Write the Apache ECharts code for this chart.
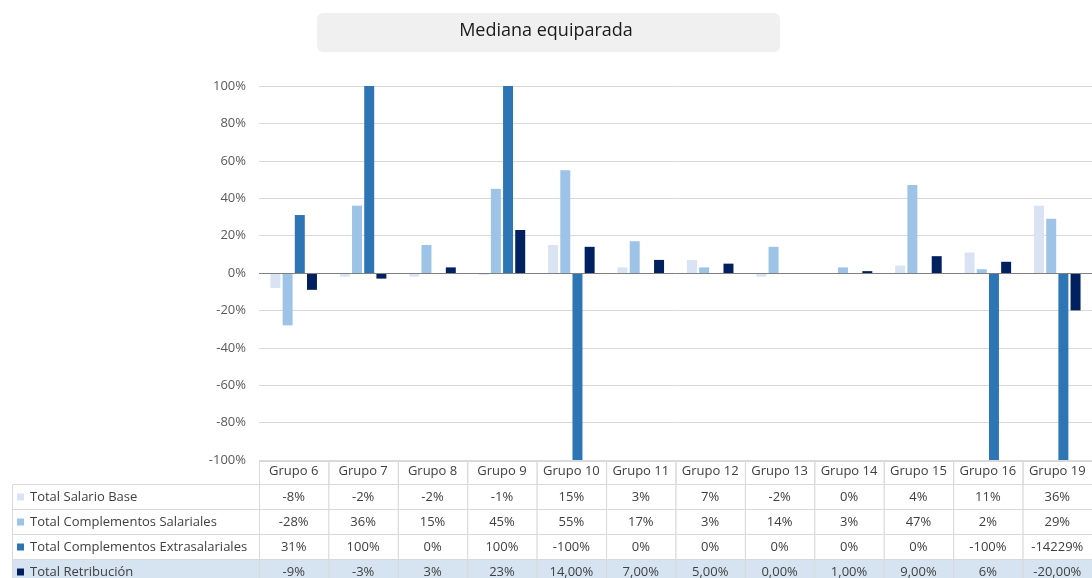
<!DOCTYPE html>
<html>
<head>
<meta charset="utf-8">
<script src="https://cdn.jsdelivr.net/npm/echarts@6/dist/echarts.min.js"></script>
<style>
  html, body { margin: 0; padding: 0; background: #fff; }
  #chart { width: 1092px; height: 578px; }
</style>
</head>
<body>
<div id="chart"></div>
<script>
// datos (en %)
const groups = ['Grupo 6', 'Grupo 7', 'Grupo 8', 'Grupo 9', 'Grupo 10', 'Grupo 11',
  'Grupo 12', 'Grupo 13', 'Grupo 14', 'Grupo 15', 'Grupo 16', 'Grupo 19']
const salarioBase = [-8, -2, -2, -1, 15, 3, 7, -2, 0, 4, 11, 36]
const complSalariales = [-28, 36, 15, 45, 55, 17, 3, 14, 3, 47, 2, 29]
const complExtrasalariales = [31, 100, 0, 100, -100, 0, 0, 0, 0, 0, -100, -14229]
const retribucion = [-9, -3, 3, 23, 14, 7, 5, 0, 1, 9, 6, -20]
// la ultima fila de la tabla tiene formato mixto
const retribucionText = ['-9%', '-3%', '3%', '23%', '14,00%', '7,00%', '5,00%', '0,00%',
  '1,00%', '9,00%', '6%', '-20,00%']
const yTicks = [-100, -80, -60, -40, -20, 0, 20, 40, 60, 80, 100]

const FONT = 'Open Sans'
const TXT = '#404040'

const seriesDefs = [
  { name: 'Total Salario Base', data: salarioBase, color: '#dae3f3' },
  { name: 'Total Complementos Salariales', data: complSalariales, color: '#9dc3e6' },
  { name: 'Total Complementos Extrasalariales', data: complExtrasalariales, color: '#2e75b6' },
  { name: 'Total Retribución', data: retribucion, color: '#002060' }
]

const chart = echarts.init(document.getElementById('chart'))

const option = {
  animation: false,
  title: {
    text: 'Mediana equiparada',
    left: 'center',
    top: 22,
    padding: [0, 0, 0, 6],
    textStyle: { fontFamily: FONT, fontSize: 18, fontWeight: 'normal', color: '#1a1a1a' }
  },
  legend: { show: false },
  grid: { left: 259, top: 86, width: 840, height: 374 },
  xAxis: {
    type: 'category',
    data: groups,
    position: 'bottom',
    axisLine: { show: false, onZero: false },
    axisTick: { show: false },
    axisLabel: { interval: 0, hideOverlap: false, margin: 5, fontFamily: FONT, fontSize: 13, color: TXT }
  },
  yAxis: {
    type: 'value',
    min: yTicks[0],
    max: yTicks[yTicks.length - 1],
    interval: 20,
    axisLine: { show: false },
    axisTick: { show: false },
    axisLabel: { margin: 13, fontFamily: FONT, fontSize: 13, color: '#595959', formatter: '{value}%' },
    splitLine: { lineStyle: { color: '#d9d9d9', width: 1 } }
  },
  series: seriesDefs.map((s, i) => ({
    name: s.name,
    type: 'bar',
    data: s.data,
    barGap: '22%',
    barCategoryGap: '33%',
    itemStyle: { color: s.color },
    markLine: i === 0 ? {
      silent: true,
      symbol: 'none',
      label: { show: false },
      lineStyle: { color: '#808080', width: 1, type: 'solid' },
      data: [{ yAxis: 0 }]
    } : undefined
  }))
}

chart.setOption(option)

// tabla de datos bajo el grafico
function buildTable () {
  const x0 = chart.convertToPixel({ xAxisIndex: 0 }, groups[0])
  const x1 = chart.convertToPixel({ xAxisIndex: 0 }, groups[1])
  const colW = x1 - x0
  const labelLeft = 12
  const labelRight = x0 - colW / 2
  const headTop = 461
  const rowTops = [484, 509, 534, 559]
  const rowH = 25
  const border = '#d9d9d9'
  const els = []

  // cabecera (solo celdas de grupo, el texto lo pone el eje)
  groups.forEach((g) => {
    const cx = chart.convertToPixel({ xAxisIndex: 0 }, g)
    els.push({
      type: 'rect', z: -1,
      shape: { x: cx - colW / 2 + 0.5, y: headTop + 0.5, width: colW, height: rowTops[0] - headTop },
      style: { fill: 'transparent', stroke: border, lineWidth: 1 }
    })
  })

  seriesDefs.forEach((s, i) => {
    const top = rowTops[i]
    const fill = i === 3 ? '#d6e4f2' : '#fff'
    const texts = i === 3 ? retribucionText : s.data.map(v => v + '%')
    els.push({
      type: 'rect',
      shape: { x: labelLeft + 0.5, y: top + 0.5, width: labelRight - labelLeft, height: rowH },
      style: { fill: fill, stroke: border, lineWidth: 1 }
    })
    els.push({
      type: 'rect',
      shape: { x: labelLeft + 5, y: top + rowH / 2 - 3, width: 7, height: 7 },
      style: { fill: s.color }
    })
    els.push({
      type: 'text',
      style: {
        x: labelLeft + 18, y: top + rowH / 2 + 1, text: s.name,
        font: '13px "' + FONT + '"', fill: TXT, align: 'left', verticalAlign: 'middle'
      }
    })
    groups.forEach((g, j) => {
      const cx = chart.convertToPixel({ xAxisIndex: 0 }, g)
      els.push({
        type: 'rect',
        shape: { x: cx - colW / 2 + 0.5, y: top + 0.5, width: colW, height: rowH },
        style: { fill: fill, stroke: border, lineWidth: 1 }
      })
      els.push({
        type: 'text',
        style: {
          x: cx, y: top + rowH / 2 + 1, text: texts[j],
          font: '13px "' + FONT + '"', fill: TXT, align: 'center', verticalAlign: 'middle'
        }
      })
    })
  })

  return els
}

chart.setOption({
  graphic: [
    {
      type: 'rect', z: -10,
      shape: { x: 317, y: 13, width: 463, height: 39, r: 6 },
      style: { fill: '#f0f0f0' }
    },
    ...buildTable()
  ]
})

window.addEventListener('resize', () => chart.resize())
</script>
</body>
</html>
